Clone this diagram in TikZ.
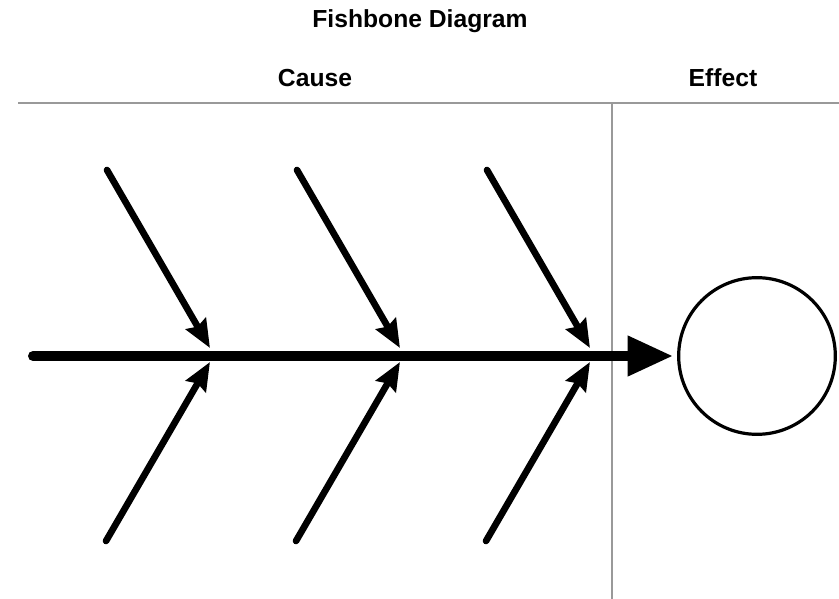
\documentclass[tikz,border=0pt]{standalone}
\usepackage{fontspec}
\setmainfont{Liberation Sans}
\usetikzlibrary{arrows.meta}

\tikzset{
  heading/.style={font=\fontsize{18.5}{22}\selectfont\bfseries, anchor=base, inner sep=0pt},
  rule/.style={draw=black!40, line width=2.2pt},
  rib/.style={line width=5pt, line cap=round,
    -{Stealth[length=21pt,width=17pt,inset=2.5pt]}},
  spine/.style={line width=7.5pt, line cap=round,
    -{Triangle[length=34pt,width=28.5pt]}}
}

\begin{document}
\begin{tikzpicture}[x=0.75pt, y=-0.75pt]
  \useasboundingbox (0,0) rectangle (839,599);
  \node[heading] (title) at (420,28) {Fishbone Diagram};
  \node[heading] (cause) at (315,87) {Cause};
  \node[heading] (effectlbl) at (723,87) {Effect};
  \coordinate (hL) at (18,103);
  \coordinate (hR) at (839,103);
  \coordinate (vT) at (612,103);
  \coordinate (vB) at (612,599);
  \draw[rule] (hL) -- (hR);
  \draw[rule] (vT) -- (vB);
  \node[draw, circle, line width=2.4pt, minimum size=117.5pt, inner sep=0pt] (effect) at (757,356) {};
  \coordinate (tail) at (33,356);
  \draw[spine, shorten >=3pt] (tail) -- (effect.west);
  \foreach \i/\x in {1/0,2/190,3/380} {
    \coordinate (tU\i) at (107+\x,170);
    \coordinate (hU\i) at (210+\x,348);
    \coordinate (tD\i) at (106+\x,541);
    \coordinate (hD\i) at (210+\x,362);
    \draw[rib] (tU\i) -- (hU\i);
    \draw[rib] (tD\i) -- (hD\i);
  }
\end{tikzpicture}
\end{document}
